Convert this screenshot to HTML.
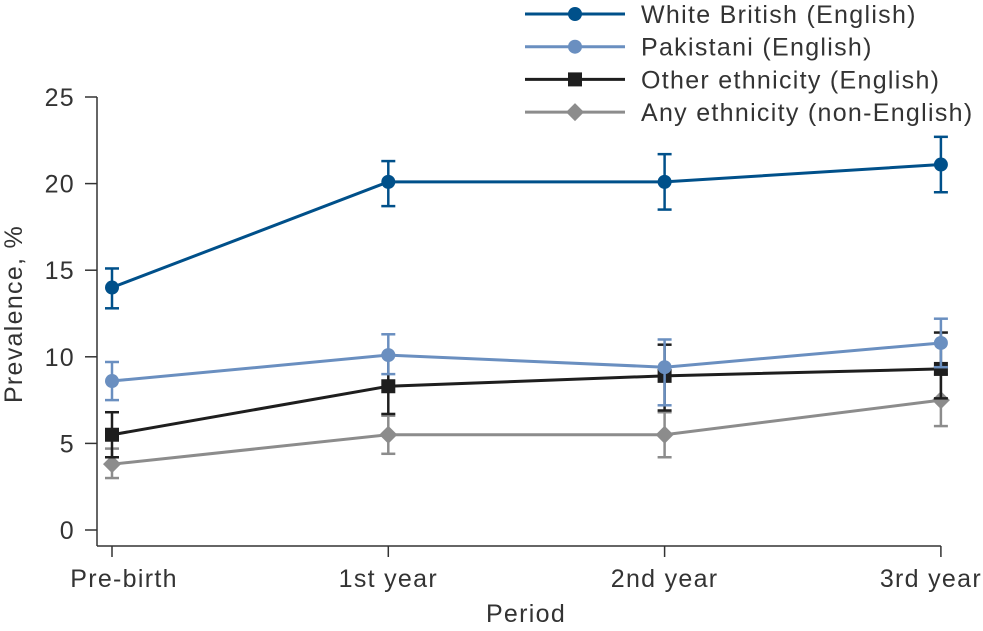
<!DOCTYPE html>
<html><head><meta charset="utf-8"><style>
body{margin:0;background:#fff;}
svg text{font-family:"Liberation Sans",sans-serif;fill:#333;letter-spacing:1.3px;}
</style></head><body>
<svg id="chart" width="983" height="626" xmlns="http://www.w3.org/2000/svg"></svg>
<script>
const categories=["Pre-birth","1st year","2nd year","3rd year"];
const yTicks=[0,5,10,15,20,25];
const seriesNames=["White British (English)","Pakistani (English)","Other ethnicity (English)","Any ethnicity (non-English)"];
const whiteBritish=[14.0,20.1,20.1,21.1];
const whiteBritishLo=[12.8,18.7,18.5,19.5];
const whiteBritishHi=[15.1,21.3,21.7,22.7];
const pakistani=[8.6,10.1,9.4,10.8];
const pakistaniLo=[7.5,9.0,7.2,9.4];
const pakistaniHi=[9.7,11.3,11.0,12.2];
const otherEth=[5.5,8.3,8.9,9.3];
const otherEthLo=[4.2,6.7,6.9,7.6];
const otherEthHi=[6.8,10.1,10.7,11.4];
const nonEnglish=[3.8,5.5,5.5,7.5];
const nonEnglishLo=[3.0,4.4,4.2,6.0];
const nonEnglishHi=[4.7,6.6,6.8,9.0];

const svg=document.getElementById('chart');
const NS="http://www.w3.org/2000/svg";
const xS=i=>112+i*276.3;
const yS=v=>530-v*17.32;
function mk(tag,attrs,name,parent){const e=document.createElementNS(NS,tag);for(const k in attrs)e.setAttribute(k,attrs[k]);


(parent||svg).appendChild(e);return e;}
mk('line',{x1:97,y1:yS(25),x2:97,y2:546,stroke:'#333','stroke-width':1.5},'y-axis-line');
mk('line',{x1:97,y1:546,x2:xS(3),y2:546,stroke:'#333','stroke-width':1.5},'x-axis-line');
yTicks.forEach(t=>{mk('line',{x1:85,y1:yS(t),x2:97,y2:yS(t),stroke:'#333','stroke-width':1.5},'y-tick');
const tx=mk('text',{x:75,y:yS(t)+9,'text-anchor':'end','font-size':25},'y-tick-label');tx.textContent=t;});
categories.forEach((c,i)=>{mk('line',{x1:xS(i),y1:546,x2:xS(i),y2:557,stroke:'#333','stroke-width':1.5},'x-tick');
const tx=mk('text',{x:xS(i)+(i==0?12:i==3?-10:0),y:587,'text-anchor':'middle','font-size':25},'x-tick-label');tx.textContent=c;});
let t=mk('text',{x:526,y:622,'text-anchor':'middle','font-size':25},'x-axis-title');t.textContent="Period";
t=mk('text',{x:22,y:314,'text-anchor':'middle','font-size':25,transform:'rotate(-90 22 314)'},'y-axis-title');t.textContent="Prevalence, %";
const series=[[whiteBritish,whiteBritishLo,whiteBritishHi,'#00508a','circle'],[pakistani,pakistaniLo,pakistaniHi,'#6a8fc0','circle'],[otherEth,otherEthLo,otherEthHi,'#1e1e1e','square'],[nonEnglish,nonEnglishLo,nonEnglishHi,'#8c8c8c','diamond']];
function marker(shape,x,y,col,name){
 if(shape=='circle')mk('circle',{cx:x,cy:y,r:7,fill:col},name);
 else if(shape=='square')mk('rect',{x:x-7,y:y-7,width:14,height:14,fill:col},name);
 else mk('polygon',{points:`${x},${y-9} ${x+9},${y} ${x},${y+9} ${x-9},${y}`,fill:col},name);}
for(let s=series.length-1;s>=0;s--){const [v,lo,hi,col,sh]=series[s];
 const g=mk('g',{},'series-'+s);
 v.forEach((d,i)=>{const x=xS(i);
  mk('line',{x1:x,y1:yS(lo[i]),x2:x,y2:yS(hi[i]),stroke:col,'stroke-width':2.5},'error-bar',g);
  mk('line',{x1:x-7,y1:yS(lo[i]),x2:x+7,y2:yS(lo[i]),stroke:col,'stroke-width':2.5},'error-cap',g);
  mk('line',{x1:x-7,y1:yS(hi[i]),x2:x+7,y2:yS(hi[i]),stroke:col,'stroke-width':2.5},'error-cap',g);});
 mk('polyline',{points:v.map((d,i)=>xS(i)+','+yS(d)).join(' '),fill:'none',stroke:col,'stroke-width':3},'series-line',g);
 v.forEach((d,i)=>marker(sh,xS(i),yS(d),col,'data-point'));}
series.forEach((s,k)=>{const y=14+k*32.7;const lg=mk('g',{},'legend-entry');
 mk('line',{x1:525,y1:y,x2:625,y2:y,stroke:s[3],'stroke-width':3},'legend-line',lg);
 marker(s[4],575,y,s[3],'legend-marker');
 const tx=mk('text',{x:641,y:y+9,'font-size':25},'legend-label',lg);tx.textContent=seriesNames[k];});
</script>
</body></html>
